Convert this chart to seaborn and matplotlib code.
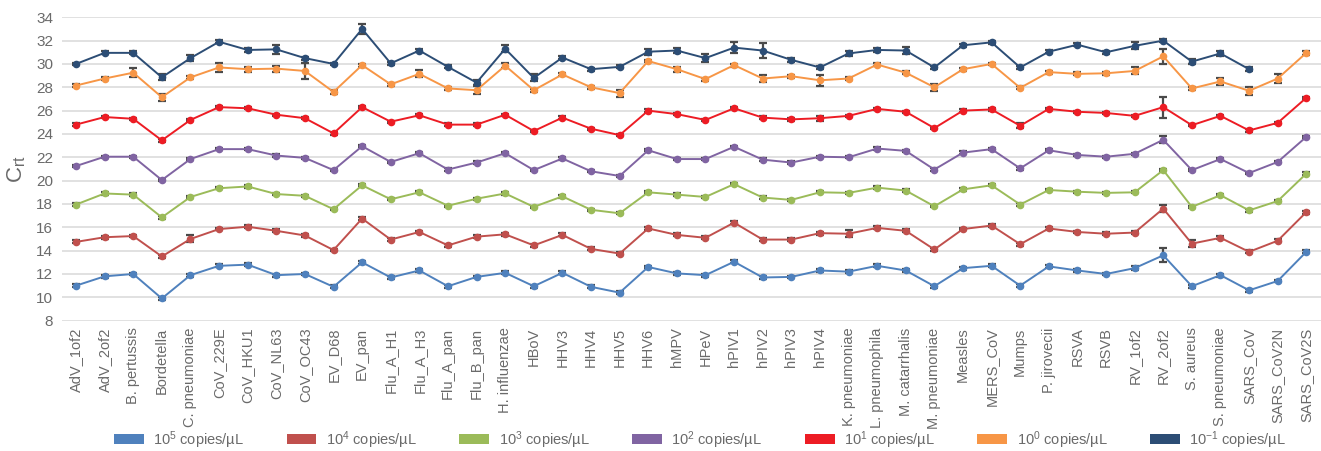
import numpy as np
import pandas as pd
import matplotlib
matplotlib.use("Agg")
import matplotlib.pyplot as plt
from matplotlib.patches import Patch
import seaborn as sns

categories = ["AdV_1of2", "AdV_2of2", "B. pertussis", "Bordetella", "C. pneumoniae",
              "CoV_229E", "CoV_HKU1", "CoV_NL63", "CoV_OC43", "EV_D68", "EV_pan",
              "Flu_A_H1", "Flu_A_H3", "Flu_A_pan", "Flu_B_pan", "H. influenzae", "HBoV",
              "HHV3", "HHV4", "HHV5", "HHV6", "hMPV", "HPeV", "hPIV1", "hPIV2", "hPIV3",
              "hPIV4", "K. pneumoniae", "L. pneumophila", "M. catarrhalis", "M. pneumoniae",
              "Measles", "MERS_CoV", "Mumps", "P. jirovecii", "RSVA", "RSVB", "RV_1of2",
              "RV_2of2", "S. aureus", "S. pneumoniae", "SARS_CoV", "SARS_CoV2N", "SARS_CoV2S"]

series_labels = [r"$\mathregular{10^{5}}$ copies/µL", r"$\mathregular{10^{4}}$ copies/µL",
                 r"$\mathregular{10^{3}}$ copies/µL", r"$\mathregular{10^{2}}$ copies/µL",
                 r"$\mathregular{10^{1}}$ copies/µL", r"$\mathregular{10^{0}}$ copies/µL",
                 r"$\mathregular{10^{-1}}$ copies/µL"]

ct_1e5 = [11.0, 11.8, 12.0, 9.9, 11.9, 12.7, 12.8, 11.9, 12.0, 10.9, 13.0, 11.7, 12.3, 10.95,
          11.75, 12.1, 10.95, 12.1, 10.9, 10.4, 12.6, 12.05, 11.9, 13.05, 11.7, 11.75, 12.3,
          12.2, 12.7, 12.3, 10.95, 12.5, 12.7, 11.0, 12.65, 12.3, 12.0, 12.5, 13.6, 10.95,
          11.9, 10.6, 11.4, 13.9]
ct_1e4 = [14.75, 15.15, 15.25, 13.5, 15.0, 15.85, 16.05, 15.7, 15.3, 14.05, 16.75, 14.95,
          15.6, 14.45, 15.2, 15.4, 14.45, 15.35, 14.15, 13.75, 15.9, 15.35, 15.1, 16.4, 14.95,
          14.95, 15.5, 15.45, 15.95, 15.7, 14.1, 15.85, 16.15, 14.55, 15.9, 15.6, 15.45, 15.55,
          17.6, 14.6, 15.1, 13.9, 14.85, 17.3]
ct_1e3 = [17.95, 18.9, 18.8, 16.85, 18.6, 19.35, 19.5, 18.85, 18.7, 17.55, 19.6, 18.4, 19.0,
          17.85, 18.45, 18.9, 17.75, 18.65, 17.5, 17.2, 19.0, 18.8, 18.6, 19.7, 18.55, 18.35,
          19.0, 18.95, 19.4, 19.15, 17.8, 19.25, 19.6, 17.95, 19.2, 19.05, 18.95, 19.0, 20.9,
          17.75, 18.75, 17.45, 18.25, 20.6]
ct_1e2 = [21.25, 22.05, 22.05, 20.05, 21.85, 22.7, 22.7, 22.15, 21.95, 20.9, 22.95, 21.6,
          22.35, 20.95, 21.55, 22.35, 20.9, 21.9, 20.8, 20.4, 22.6, 21.85, 21.85, 22.9, 21.8,
          21.55, 22.05, 22.0, 22.75, 22.55, 20.95, 22.4, 22.7, 21.05, 22.6, 22.2, 22.05, 22.3,
          23.5, 20.9, 21.85, 20.65, 21.6, 23.75]
ct_1e1 = [24.8, 25.45, 25.3, 23.45, 25.2, 26.3, 26.2, 25.65, 25.35, 24.05, 26.3, 25.05, 25.6,
          24.8, 24.8, 25.65, 24.25, 25.4, 24.45, 23.9, 26.0, 25.7, 25.2, 26.2, 25.4, 25.25,
          25.35, 25.55, 26.15, 25.9, 24.5, 26.0, 26.1, 24.7, 26.15, 25.9, 25.8, 25.55, 26.3,
          24.75, 25.55, 24.3, 24.95, 27.1]
ct_1e0 = [28.15, 28.75, 29.25, 27.15, 28.85, 29.7, 29.55, 29.6, 29.4, 27.6, 29.9, 28.25,
          29.15, 27.9, 27.75, 29.85, 27.75, 29.1, 28.0, 27.5, 30.25, 29.55, 28.7, 29.9, 28.75,
          28.95, 28.6, 28.75, 29.95, 29.25, 28.0, 29.55, 30.0, 27.95, 29.3, 29.15, 29.2, 29.4,
          30.65, 27.9, 28.5, 27.7, 28.75, 30.95]
ct_1em1 = [30.0, 30.95, 30.95, 28.85, 30.5, 31.9, 31.2, 31.25, 30.5, 30.0, 33.0, 30.05, 31.15,
           29.75, 28.4, 31.3, 28.8, 30.55, 29.55, 29.75, 31.05, 31.15, 30.5, 31.4, 31.15, 30.35,
           29.7, 30.9, 31.2, 31.15, 29.7, 31.6, 31.85, 29.7, 31.05, 31.65, 31.0, 31.55, 32.0,
           30.2, 30.9, 29.55, np.nan, np.nan]

err_1e5 = [0.12] * 44
err_1e4 = [0.12] * 44
err_1e3 = [0.1] * 44
err_1e2 = [0.1] * 44
err_1e1 = [0.1] * 44
err_1e0 = [0.12] * 44
err_1em1 = [0.12] * 44
for i, e in {37: 0.2, 38: 0.6}.items():
    err_1e5[i] = e
for i, e in {4: 0.3, 27: 0.3, 38: 0.3, 39: 0.3}.items():
    err_1e4[i] = e
for i, e in {38: 0.3}.items():
    err_1e2[i] = e
for i, e in {26: 0.2, 33: 0.2, 38: 0.9}.items():
    err_1e1[i] = e
for i, e in {2: 0.4, 3: 0.3, 5: 0.35, 6: 0.2, 7: 0.25, 8: 0.65, 9: 0.2, 12: 0.3, 14: 0.35,
             15: 0.2, 19: 0.3, 21: 0.2, 24: 0.3, 26: 0.45, 30: 0.3, 37: 0.3, 38: 0.65, 40: 0.3,
             41: 0.35, 42: 0.4, 43: 0.2, 39: 0.15}.items():
    err_1e0[i] = e
for i, e in {3: 0.25, 4: 0.25, 6: 0.2, 7: 0.4, 10: 0.45, 14: 0.2, 15: 0.3, 16: 0.3, 20: 0.25,
             21: 0.25, 22: 0.35, 23: 0.45, 24: 0.65, 25: 0.2, 27: 0.25, 28: 0.2, 29: 0.3,
             37: 0.3, 39: 0.2, 40: 0.2, 41: 0.15}.items():
    err_1em1[i] = e

colors = ["#4f81bd", "#c0504d", "#9bbb59", "#8064a2", "#ed1c24", "#f79646", "#2c4d75"]

values = [ct_1e5, ct_1e4, ct_1e3, ct_1e2, ct_1e1, ct_1e0, ct_1em1]
errors = [err_1e5, err_1e4, err_1e3, err_1e2, err_1e1, err_1e0, err_1em1]

rows = []
for s, (lab, vals, errs) in enumerate(zip(series_labels, values, errors)):
    for i, (v, e) in enumerate(zip(vals, errs)):
        if not np.isnan(v):
            rows.append({"x": i, "category": categories[i], "series": lab, "ct": v, "err": e})
df = pd.DataFrame(rows)

sns.set_theme(style="white")
plt.rcParams["font.family"] = ["Liberation Sans", "DejaVu Sans"]
plt.rcParams["mathtext.default"] = "regular"
gray = "#6a6a6a"

fig = plt.figure(figsize=(13.21, 4.51), dpi=100)
ax = fig.add_axes([0.0467, 0.289, 0.953, 0.6727])

palette = dict(zip(series_labels, colors))
for lab in series_labels:
    sub = df[df["series"] == lab]
    ax.errorbar(sub["x"], sub["ct"], yerr=sub["err"], fmt="none", ecolor="#4a4a4a",
                elinewidth=1.6, capsize=3.2, capthick=1.6, zorder=3)

sns.lineplot(data=df, x="x", y="ct", hue="series", palette=palette, hue_order=series_labels,
             marker="o", markersize=5.5, markeredgewidth=0, linewidth=1.4, legend=False,
             ax=ax, zorder=4, sort=True)

ax.set_xlim(-0.5, len(categories) - 0.5)
ax.set_ylim(8, 34)
ax.set_yticks(np.arange(8, 35, 2))
ax.set_xticks(range(len(categories)))
ax.set_xticklabels(categories, rotation=90, fontsize=10.5, color=gray)
ax.tick_params(axis="y", labelsize=11, colors=gray, length=0, pad=6)
ax.tick_params(axis="x", length=0, pad=5)
ax.yaxis.grid(True, color="#d9d9d9", linewidth=1.1)
ax.set_axisbelow(True)
for sp in ax.spines.values():
    sp.set_visible(False)
ax.set_xlabel("")
ax.set_ylabel(r"$\mathregular{C_{rt}}$", fontsize=16, color=gray, labelpad=6)

handles = [Patch(facecolor=c, edgecolor="none") for c in colors]
fig.legend(handles, series_labels, loc="center", bbox_to_anchor=(0.530, 0.025), ncol=7,
           frameon=False, fontsize=10.5, labelcolor=gray, handlelength=2.05, handleheight=0.68,
           handletextpad=0.65, columnspacing=2.9, borderpad=0.2)

fig.savefig("out.png", dpi=100)
